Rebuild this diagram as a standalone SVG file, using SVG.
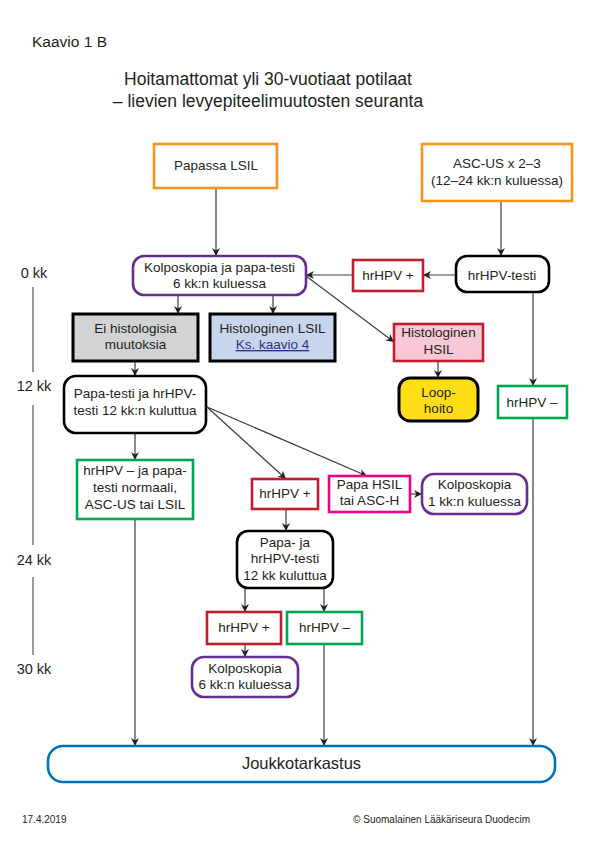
<svg xmlns="http://www.w3.org/2000/svg" width="595" height="842" viewBox="0 0 595 842">
<defs>
<marker id="ah" viewBox="0 0 10 10" refX="10" refY="5" markerWidth="8" markerHeight="8" markerUnits="userSpaceOnUse" orient="auto">
<path d="M0,0 L10,5 L0,10 L3,5 z" fill="#231F20"/>
</marker>
<style>
text{font-family:"Liberation Sans",Arial,sans-serif;fill:#231F20}
.t{font-size:13.5px;text-anchor:middle}
.tl{font-size:14.5px;text-anchor:middle}
.box{fill:#fff;stroke-width:2.6}
.or{stroke:#F7941D}
.pu{stroke:#662D91}
.rd{stroke:#BE1E2D}
.gr{stroke:#00A651}
.mg{stroke:#EC008C}
.bk{stroke:#000}
.bl{stroke:#0072BC}
.c line{stroke:#3C3C3C;stroke-width:1.2;marker-end:url(#ah)}
.tline{stroke:#999;stroke-width:2}
</style>
</defs>
<rect width="595" height="842" fill="#fff"/>
<text x="32" y="47" style="font-size:15.5px">Kaavio 1 B</text>
<text x="268" y="85" style="font-size:17.5px;text-anchor:middle">Hoitamattomat yli 30-vuotiaat potilaat</text>
<text x="268" y="107" style="font-size:17.5px;text-anchor:middle">– lievien levyepiteelimuutosten seuranta</text>

<g id="timeline">
<text x="34" y="278" class="tl">0 kk</text>
<line class="tline" x1="33" y1="287" x2="33" y2="372"/>
<text x="34" y="391" class="tl">12 kk</text>
<line class="tline" x1="33" y1="405" x2="33" y2="545"/>
<text x="34" y="565" class="tl">24 kk</text>
<line class="tline" x1="33" y1="577" x2="33" y2="655"/>
<text x="34" y="674" class="tl">30 kk</text>
</g>

<g class="c" id="connectors">
<line x1="216" y1="188" x2="216" y2="256"/>
<line x1="178" y1="295" x2="178" y2="314"/>
<line x1="273" y1="295" x2="273" y2="314"/>
<line x1="353" y1="275" x2="306" y2="275"/>
<line x1="456" y1="275" x2="423" y2="275"/>
<line x1="501" y1="201" x2="501" y2="256"/>
<line x1="533" y1="292" x2="533" y2="386"/>
<line x1="533" y1="418" x2="533" y2="746"/>
<line x1="306" y1="276" x2="394" y2="342"/>
<line x1="438" y1="361" x2="438" y2="378"/>
<line x1="135" y1="361" x2="135" y2="376"/>
<line x1="135" y1="433" x2="135" y2="460"/>
<line x1="135" y1="519" x2="135" y2="746"/>
<line x1="207" y1="407" x2="286" y2="479"/>
<line x1="207" y1="407" x2="367" y2="476"/>
<line x1="410" y1="494" x2="422" y2="494"/>
<line x1="286" y1="509" x2="286" y2="531"/>
<line x1="245" y1="588" x2="245" y2="612"/>
<line x1="324" y1="588" x2="324" y2="612"/>
<line x1="245" y1="644" x2="245" y2="657"/>
<line x1="324" y1="644" x2="324" y2="746"/>
</g>

<g id="papassa">
<rect class="box or" x="154" y="144" width="123" height="44"/>
<text class="t" x="216" y="170">Papassa LSIL</text>
</g>
<g id="ascus">
<rect class="box or" x="422" y="144" width="150" height="57"/>
<text class="t" x="497" y="168">ASC-US x 2–3</text>
<text class="t" x="497" y="185">(12–24 kk:n kuluessa)</text>
</g>
<g id="kolpo0">
<rect class="box pu" x="133" y="256" width="173" height="39" rx="11"/>
<text class="t" x="219.5" y="272">Kolposkopia ja papa-testi</text>
<text class="t" x="219.5" y="288">6 kk:n kuluessa</text>
</g>
<g id="hrhpvpos0">
<rect class="box rd" x="353" y="260" width="70" height="31"/>
<text class="t" x="388" y="280">hrHPV +</text>
</g>
<g id="hrhpvtesti">
<rect class="box bk" x="456" y="256" width="93" height="36" rx="11"/>
<text class="t" x="502" y="280">hrHPV-testi</text>
</g>
<g id="eihist">
<rect x="73" y="314" width="125" height="47" fill="#D1D3D4" stroke="#000" stroke-width="3"/>
<text class="t" x="135.5" y="333">Ei histologisia</text>
<text class="t" x="135.5" y="349">muutoksia</text>
</g>
<g id="histlsil">
<rect x="210" y="314" width="125" height="47" fill="#C7D6EC" stroke="#000" stroke-width="3"/>
<text class="t" x="272.5" y="333">Histologinen LSIL</text>
<text class="t" x="272.5" y="349" style="fill:#2E3192;text-decoration:underline">Ks. kaavio 4</text>
</g>
<g id="histhsil">
<rect x="394" y="324" width="89" height="37" fill="#F8C8D6" stroke="#BE1E2D" stroke-width="2.6"/>
<text class="t" x="438.5" y="337">Histologinen</text>
<text class="t" x="438.5" y="354">HSIL</text>
</g>
<g id="loop">
<rect x="399" y="378" width="79" height="43" rx="11" fill="#FFDE17" stroke="#000" stroke-width="3"/>
<text class="t" x="438.5" y="397">Loop-</text>
<text class="t" x="438.5" y="413">hoito</text>
</g>
<g id="hrhpvneg0">
<rect class="box gr" x="498" y="386" width="69" height="32"/>
<text class="t" x="532" y="407">hrHPV –</text>
</g>
<g id="papatesti">
<rect class="box bk" x="64" y="376" width="142" height="57" rx="12" stroke-width="3"/>
<text class="t" x="135" y="398">Papa-testi ja hrHPV-</text>
<text class="t" x="135" y="415">testi 12 kk:n kuluttua</text>
</g>
<g id="hrhpvnegnorm">
<rect class="box gr" x="77" y="460" width="116" height="59"/>
<text class="t" x="135" y="475">hrHPV – ja papa-</text>
<text class="t" x="135" y="492">testi normaali,</text>
<text class="t" x="135" y="509">ASC-US tai LSIL</text>
</g>
<g id="hrhpvpos1">
<rect class="box rd" x="252" y="479" width="66" height="30"/>
<text class="t" x="285" y="498">hrHPV +</text>
</g>
<g id="papahsil">
<rect class="box mg" x="329" y="476" width="81" height="36"/>
<text class="t" x="369.5" y="489">Papa HSIL</text>
<text class="t" x="369.5" y="505">tai ASC-H</text>
</g>
<g id="kolpo1">
<rect class="box pu" x="422" y="474" width="105" height="40" rx="12"/>
<text class="t" x="474.5" y="489">Kolposkopia</text>
<text class="t" x="474.5" y="506">1 kk:n kuluessa</text>
</g>
<g id="papaja">
<rect class="box bk" x="237" y="531" width="96" height="57" rx="11" stroke-width="3"/>
<text class="t" x="285" y="547">Papa- ja</text>
<text class="t" x="285" y="563">hrHPV-testi</text>
<text class="t" x="285" y="580">12 kk kuluttua</text>
</g>
<g id="hrhpvpos2">
<rect class="box rd" x="207" y="612" width="74" height="32"/>
<text class="t" x="244" y="632">hrHPV +</text>
</g>
<g id="hrhpvneg2">
<rect class="box gr" x="287" y="612" width="75" height="32"/>
<text class="t" x="324.5" y="632">hrHPV –</text>
</g>
<g id="kolpo2">
<rect class="box pu" x="192" y="657" width="106" height="40" rx="12"/>
<text class="t" x="245" y="673">Kolposkopia</text>
<text class="t" x="245" y="689">6 kk:n kuluessa</text>
</g>
<g id="joukko">
<rect class="box bl" x="48" y="746" width="507" height="36" rx="15" stroke-width="3"/>
<text x="301.5" y="769" style="font-size:16.5px;text-anchor:middle">Joukkotarkastus</text>
</g>
<text x="22" y="823" style="font-size:10px">17.4.2019</text>
<text x="530" y="823" style="font-size:10px;text-anchor:end">© Suomalainen Lääkäriseura Duodecim</text>
</svg>
